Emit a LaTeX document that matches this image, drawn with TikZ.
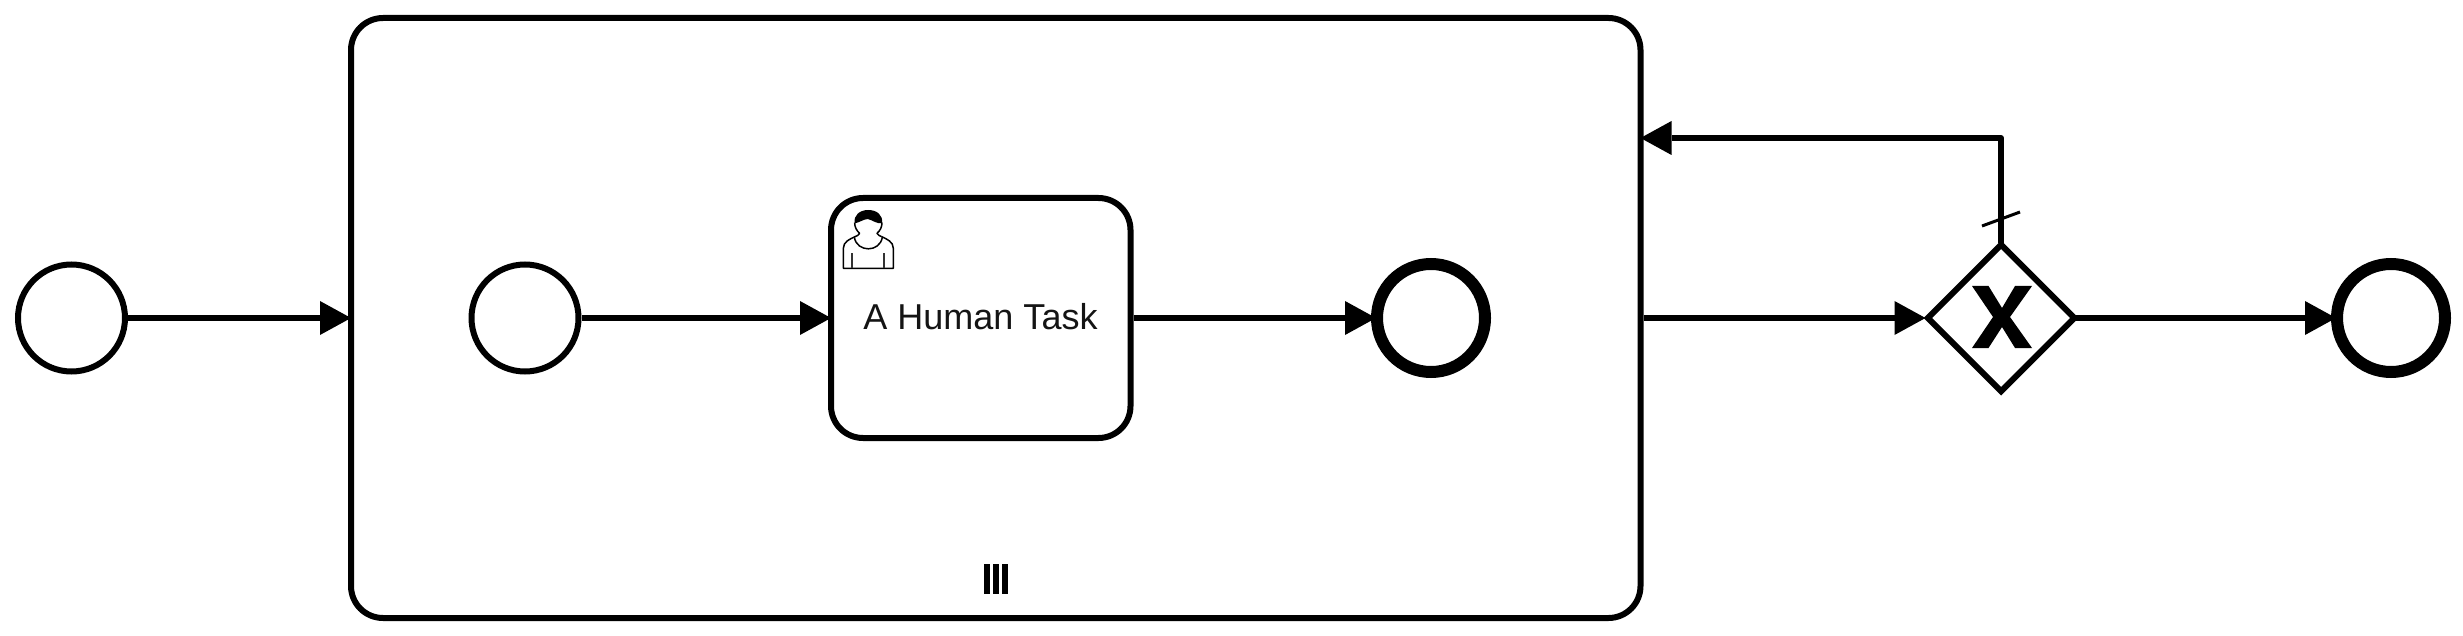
\documentclass[tikz,border=0pt]{standalone}
\usepackage{fontspec}
\setmainfont{Liberation Sans}
\usetikzlibrary{arrows.meta,shapes.geometric}
\tikzset{
  flowline/.style={line width=6pt,-{Triangle[length=31pt,width=34pt,line width=0pt]},line join=round,shorten >=-3pt},
  startev/.style={circle,draw,line width=6pt,minimum size=107pt,inner sep=0pt},
  endev/.style={circle,draw,line width=12pt,minimum size=108pt,inner sep=0pt},
  activity/.style={rectangle,draw,line width=6pt,rounded corners=32pt,inner sep=0pt},
  gatewaybox/.style={diamond,draw,line width=6pt,minimum size=149pt,inner sep=0pt,aspect=1},
  iconline/.style={line width=1.5pt,line join=round}
}
\begin{document}
\begin{tikzpicture}[x=1pt,y=-1pt]
\useasboundingbox (0,0) rectangle (2463,636);
\node[activity,minimum width=1289.5pt,minimum height=600pt] (sub) at (995.75,318) {};
\node[activity,minimum width=299.5pt,minimum height=240pt] (task) at (980.75,318) {};
\node[font=\fontsize{36}{40}\selectfont,text=black!92,anchor=base] (tasklabel) at (980.5,329.3) {A Human Task};
\node[startev] (s1) at (71.5,318) {};
\node[startev] (s2) at (525,318) {};
\node[endev] (e1) at (1431,318) {};
\node[endev] (e2) at (2391,318) {};
\node[gatewaybox] (gw) at (2001,318) {};
\coordinate (loopin) at (sub.east |- 0,138);
\draw[flowline] (s1.east) -- (sub.west);
\draw[flowline] (s2.east) -- (task.west);
\draw[flowline,shorten >=-5pt] (task.east) -- (e1.west);
\draw[flowline,shorten >=-2pt] (sub.east) -- (gw.west);
\draw[flowline,shorten <=-3pt,shorten >=-5pt] (gw.east) -- (e2.west);
\draw[flowline,shorten <=-3pt] (gw.north) |- (loopin);
\draw[line width=3pt] (1982,226) -- (2020,212);
% gateway X marker
\fill[black] (1972,286) -- (1988.5,286) -- (2002,308) -- (2015,286) -- (2032,286) -- (2010,317) -- (2032,348) -- (2015,348) -- (2002,327) -- (1988.5,348) -- (1972,348) -- (1993,317) -- cycle;
% multi-instance marker
\fill[black] (984,564) rectangle (990,594);
\fill[black] (993,564) rectangle (998.5,594);
\fill[black] (1002,564) rectangle (1008,594);
% user icon
\begin{scope}[shift={(835,200)},scale=1/3]
\fill[black] (59,70) .. controls (55,45) and (75,30) .. (100,30) .. controls (125,30) and (145,45) .. (141,70) .. controls (125,72) and (112,60) .. (98,57) .. controls (85,58) and (72,68) .. (59,70) -- cycle;
\draw[iconline] (59,68) .. controls (59,82) and (65,92) .. (74,100) .. controls (70,106) and (66,108) .. (60,110);
\draw[iconline] (141,68) .. controls (141,82) and (135,92) .. (126,100) .. controls (130,106) and (134,108) .. (140,110);
\draw[iconline] (60,110) .. controls (45,117) and (25,125) .. (25,145) -- (25,205) -- (175,205) -- (175,145) .. controls (175,125) and (155,117) .. (140,110);
\draw[iconline] (58,112) .. controls (66,158) and (134,158) .. (142,112);
\draw[line width=2pt,black!80] (50,160) -- (50,205);
\draw[line width=2pt,black!80] (148,160) -- (148,205);
\end{scope}
\end{tikzpicture}
\end{document}
